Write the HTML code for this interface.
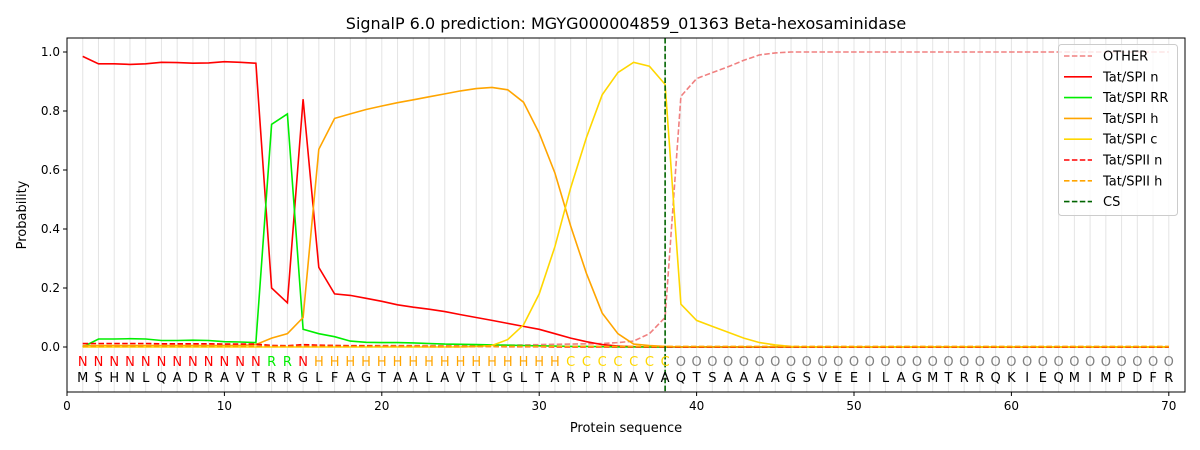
<!DOCTYPE html>
<html><head><meta charset="utf-8"><style>
body{margin:0;background:#fff;}
svg{display:block;font-family:"DejaVu Sans","Liberation Sans",sans-serif;}
</style></head><body>
<svg id="s" width="1200" height="450" xmlns="http://www.w3.org/2000/svg"></svg>
<script>
const s=document.getElementById('s');
const X=x=>67+15.74*x, Y=y=>347-295*y;
let h='';
for(let i=1;i<=70;i++)h+=`<line x1="${X(i)}" y1="38" x2="${X(i)}" y2="392" stroke="#e4e4e4" stroke-width="1"/>`;
function line(d,c,dash){let p=d.map((v,i)=>X(i+1).toFixed(1)+','+Y(v).toFixed(1)).join(' ');
h+=`<polyline points="${p}" fill="none" stroke="${c}" stroke-width="1.6" ${dash?'stroke-dasharray="5.5,2.4"':''}/>`;}
function fill(a,n){while(a.length<n)a.push(a[a.length-1]);return a;}
const n=fill([.985,.96,.96,.958,.96,.965,.964,.962,.963,.967,.965,.962,.2,.15,.84,.27,.18,.175,.165,.155,.143,.135,.128,.12,.11,.1,.09,.08,.07,.06,.045,.03,.018,.008,.003,.001,0],70);
const rr=fill([0,.027,.027,.028,.027,.022,.022,.023,.022,.018,.017,.015,.755,.79,.06,.045,.035,.02,.016,.015,.015,.014,.012,.01,.009,.008,.007,.006,.005,.004,.003,.002,.002,.001,0],70);
const hh=fill([.005,.005,.005,.005,.005,.005,.005,.005,.005,.005,.005,.008,.03,.045,.1,.67,.775,.79,.805,.817,.828,.838,.848,.858,.868,.876,.88,.872,.83,.725,.59,.41,.25,.115,.045,.01,.005,.002,0],70);
const c=fill([0,0,0,0,0,0,0,0,0,0,0,0,0,0,0,0,0,0,0,0,0,0,0,0,0,.002,.005,.025,.075,.18,.34,.54,.71,.855,.93,.965,.952,.89,.145,.09,.07,.05,.03,.015,.007,.002,0],70);
const o=fill([.005,.005,.005,.005,.005,.005,.005,.005,.005,.005,.005,.005,.005,.005,.005,.005,.005,.005,.005,.005,.005,.005,.005,.005,.006,.006,.006,.006,.007,.008,.009,.01,.011,.012,.015,.02,.045,.1,.85,.91,.93,.95,.972,.99,.997,1],70);
const sn=fill([.012,.012,.012,.012,.012,.011,.011,.011,.011,.01,.01,.01,.005,.004,.008,.006,.005,.004,.004,.003,.003,.003,.002,.002,.002,.002,.002,.001,.001,.001,0],70);
const shh=fill([.002],70);
line(o,'#f08080',1);line(n,'#ff0000');line(rr,'#00ee00');line(hh,'#ffa500');line(c,'#ffd700');line(sn,'#ff0000',1);line(shh,'#ffa500',1);
h+=`<line x1="${X(38)}" y1="38" x2="${X(38)}" y2="392" stroke="#006400" stroke-width="1.6" stroke-dasharray="5.5,2.4"/>`;
const seq="MSHNLQADRAVTRRGLFAGTAALAVTLGLTARPRNAVAQTSAAAAGSVEEILAGMTRRQKIEQMIMPDFR";
for(let i=1;i<=70;i++){let L,col;if(i<=12||i==15){L='N';col='#ff0000'}else if(i<=14){L='R';col='#00ee00'}else if(i<=31){L='H';col='#ffa500'}else if(i<=38){L='C';col='#ffd700'}else{L='O';col='#808080'}
h+=`<text x="${X(i)}" y="366" font-size="13" fill="${col}" text-anchor="middle">${L}</text><text x="${X(i)}" y="382" font-size="13" fill="#000" text-anchor="middle">${seq[i-1]}</text>`;}
h+=`<rect x="67" y="38" width="1118" height="354" fill="none" stroke="#000" stroke-width="1"/>`;
for(let t=0;t<=70;t+=10){h+=`<line x1="${X(t)}" y1="392" x2="${X(t)}" y2="396" stroke="#000"/><text x="${X(t)}" y="410" font-size="12" text-anchor="middle">${t}</text>`;}
for(let k=0;k<=5;k++){let v=k*0.2;h+=`<line x1="63" y1="${Y(v)}" x2="67" y2="${Y(v)}" stroke="#000"/><text x="60" y="${Y(v)+4}" font-size="12" text-anchor="end">${v.toFixed(1)}</text>`;}
h+=`<text x="626" y="432" font-size="13" text-anchor="middle">Protein sequence</text>`;
h+=`<text transform="translate(26,215) rotate(-90)" font-size="13" text-anchor="middle">Probability</text>`;
h+=`<text x="626" y="29" font-size="16" text-anchor="middle">SignalP 6.0 prediction: MGYG000004859_01363 Beta-hexosaminidase</text>`;
h+=`<rect x="1058.5" y="44.5" width="119" height="171" rx="3" fill="#fff" fill-opacity="0.8" stroke="#ccc"/>`;
const lg=[['OTHER','#f08080',1],['Tat/SPI n','#ff0000'],['Tat/SPI RR','#00ee00'],['Tat/SPI h','#ffa500'],['Tat/SPI c','#ffd700'],['Tat/SPII n','#ff0000',1],['Tat/SPII h','#ffa500',1],['CS','#006400',1]];
lg.forEach((e,i)=>{let y=56+i*20.8;h+=`<line x1="1064" y1="${y}" x2="1092" y2="${y}" stroke="${e[1]}" stroke-width="1.6" ${e[2]?'stroke-dasharray="5.5,2.4"':''}/><text x="1103" y="${y+4.5}" font-size="13">${e[0]}</text>`;});
s.innerHTML=h;
</script>
</body></html>
